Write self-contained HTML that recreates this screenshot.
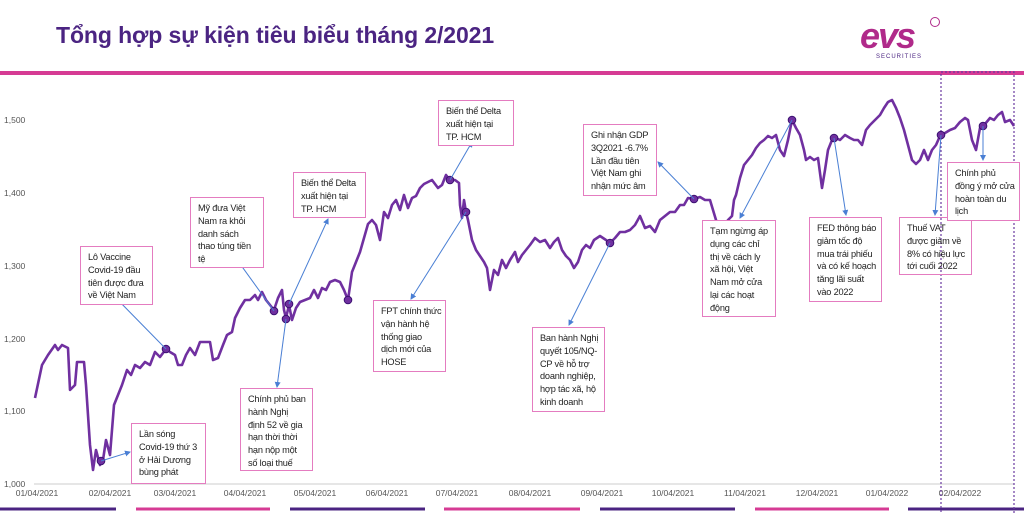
<!DOCTYPE html>
<html><head><meta charset="utf-8"><style>
body{margin:0;width:1024px;height:513px;background:#fff;overflow:hidden;font-family:"Liberation Sans","Noto Sans CJK SC",sans-serif}
.t{position:absolute;left:56px;top:22px;font-size:23px;font-weight:bold;color:#4b2482;letter-spacing:-0.1px}
.b{position:absolute;border:1.5px solid #e47cc0;background:#fff;font-size:9.2px;line-height:12.8px;color:#222;padding:4px 0 0 7px;box-sizing:border-box;white-space:nowrap;letter-spacing:-0.2px}
</style></head><body>
<div class="t">Tổng hợp sự kiện tiêu biểu tháng 2/2021</div>
<div style="position:absolute;left:860px;top:18px;font-size:36px;font-weight:bold;color:#b02a8a;font-style:italic;letter-spacing:-2px;line-height:36px">evs</div>
<div style="position:absolute;left:930px;top:17px;width:8px;height:8px;border:1.5px solid #b02a8a;border-radius:50%"></div>
<div style="position:absolute;left:876px;top:54px;font-size:6px;color:#4b2482;letter-spacing:1px">SECURITIES</div>
<div style="position:absolute;left:0;top:71px;width:1024px;height:4px;background:#d63b94"></div>
<svg width="1024" height="513" style="position:absolute;left:0;top:0">
<g font-size="8.5" fill="#555" font-family="Liberation Sans,sans-serif">
<text x="4" y="123">1,500</text><text x="4" y="196">1,400</text><text x="4" y="269">1,300</text><text x="4" y="342">1,200</text><text x="4" y="414">1,100</text><text x="4" y="487">1,000</text>
</g>
<line x1="34" y1="484" x2="1014" y2="484" stroke="#ccc"/>
<g font-size="8.5" fill="#555" text-anchor="middle">
<text x="37" y="496">01/04/2021</text><text x="110" y="496">02/04/2021</text><text x="175" y="496">03/04/2021</text><text x="245" y="496">04/04/2021</text><text x="315" y="496">05/04/2021</text><text x="387" y="496">06/04/2021</text><text x="457" y="496">07/04/2021</text><text x="530" y="496">08/04/2021</text><text x="602" y="496">09/04/2021</text><text x="673" y="496">10/04/2021</text><text x="745" y="496">11/04/2021</text><text x="817" y="496">12/04/2021</text><text x="887" y="496">01/04/2022</text><text x="960" y="496">02/04/2022</text>
</g>
<g stroke-width="3">
<line x1="0" y1="509" x2="116" y2="509" stroke="#4b2482"/><line x1="136" y1="509" x2="270" y2="509" stroke="#d63b94"/><line x1="290" y1="509" x2="425" y2="509" stroke="#4b2482"/><line x1="444" y1="509" x2="580" y2="509" stroke="#d63b94"/><line x1="600" y1="509" x2="735" y2="509" stroke="#4b2482"/><line x1="755" y1="509" x2="889" y2="509" stroke="#d63b94"/><line x1="908" y1="509" x2="1024" y2="509" stroke="#4b2482"/>
</g>
<rect x="941" y="72" width="73" height="445" fill="none" stroke="#6a3aa0" stroke-dasharray="2,2" stroke-width="1.2"/>
<polyline fill="none" stroke="#7030a0" stroke-width="2.6" stroke-linejoin="round" points="35,398 42,365 48,355 55,345 58,350 62,345 68,348 70,390 75,385 77,362 84,362 86,385 90,445 93,470 96,450 100,465 103,460 106,440 110,455 114,405 118,395 122,385 127,370 131,375 135,365 140,368 145,362 150,365 155,352 160,357 166,349 170,352 175,355 178,365 182,365 186,355 190,348 195,355 200,342 204,342 210,342 213,360 218,358 223,345 227,335 232,332 235,318 240,308 245,300 250,300 255,295 258,300 262,292 266,300 270,305 274,310 278,298 282,290 284,310 286,318 289,305 292,320 296,308 300,302 305,300 310,298 314,290 318,298 322,288 326,290 330,282 335,280 340,282 344,290 348,300 352,272 356,262 360,252 364,238 368,224 372,220 376,225 380,240 384,212 388,218 392,205 396,200 400,210 404,195 408,208 412,198 416,196 420,188 424,184 428,182 432,180 438,188 442,185 446,175 450,180 455,180 459,183 460,205 462,218 464,200 466,212 468,220 472,240 476,250 480,256 484,262 487,268 490,290 494,270 498,275 502,260 506,268 510,260 515,252 518,262 522,255 526,250 530,245 535,238 540,242 545,240 550,248 554,242 558,238 562,250 566,256 570,260 574,268 578,262 582,250 586,245 590,248 594,240 600,236 606,240 610,243 615,238 620,232 625,232 630,230 635,225 640,216 645,228 650,226 655,232 660,220 665,216 670,212 675,212 680,205 684,205 688,198 694,199 700,197 705,200 710,200 713,210 716,220 720,230 724,225 728,220 732,216 734,200 736,195 740,178 744,165 748,160 752,155 756,148 760,143 764,140 768,136 772,138 776,135 780,150 784,156 788,140 792,120 796,128 800,135 804,150 806,160 810,157 814,160 818,158 822,188 825,170 828,150 832,140 836,138 840,140 845,135 850,138 854,140 858,140 862,145 866,130 870,125 875,120 880,115 884,108 888,102 892,100 896,108 900,118 904,130 908,145 912,160 916,164 920,160 924,150 928,160 932,150 936,145 940,136 945,133 950,130 955,128 960,122 965,118 968,120 972,140 976,150 980,128 985,124 990,118 994,120 998,115 1002,112 1005,122 1010,120 1014,126"/>
<g fill="#7030a0" stroke="#3a1070" stroke-width="1">
<circle cx="101" cy="461" r="3.8"/><circle cx="166" cy="349" r="3.8"/><circle cx="274" cy="311" r="3.8"/><circle cx="289" cy="304" r="3.8"/><circle cx="286" cy="319" r="3.8"/><circle cx="348" cy="300" r="3.8"/><circle cx="450" cy="180" r="3.8"/><circle cx="466" cy="212" r="3.8"/><circle cx="610" cy="243" r="3.8"/><circle cx="694" cy="199" r="3.8"/><circle cx="792" cy="120" r="3.8"/><circle cx="834" cy="138" r="3.8"/><circle cx="941" cy="135" r="3.8"/><circle cx="983" cy="126" r="3.8"/>
</g>
<defs><marker id="a" markerWidth="6" markerHeight="6" refX="5" refY="3" orient="auto"><path d="M0,0L6,3L0,6z" fill="#4a7fd4"/></marker></defs>
<g stroke="#4a7fd4" stroke-width="1" marker-end="url(#a)">
<line x1="101" y1="461" x2="130" y2="452"/><line x1="166" y1="349" x2="115" y2="297"/><line x1="274" y1="311" x2="230" y2="250"/><line x1="289" y1="304" x2="328" y2="219"/><line x1="286" y1="319" x2="277" y2="387"/><line x1="450" y1="180" x2="472" y2="142"/><line x1="466" y1="212" x2="411" y2="299"/><line x1="610" y1="243" x2="569" y2="325"/><line x1="694" y1="199" x2="658" y2="162"/><line x1="792" y1="120" x2="740" y2="218"/><line x1="834" y1="138" x2="846" y2="215"/><line x1="941" y1="135" x2="935" y2="215"/><line x1="983" y1="126" x2="983" y2="160"/>
</g>
</svg>
<div class="b" style="left:80px;top:246px;width:73px;height:59px">Lô Vaccine<br>Covid-19 đầu<br>tiên được đưa<br>về Việt Nam</div>
<div class="b" style="left:131px;top:423px;width:75px;height:61px">Lần sóng<br>Covid-19 thứ 3<br>ở Hải Dương<br>bùng phát</div>
<div class="b" style="left:190px;top:197px;width:74px;height:71px">Mỹ đưa Việt<br>Nam ra khỏi<br>danh sách<br>thao túng tiền<br>tệ</div>
<div class="b" style="left:240px;top:388px;width:73px;height:83px">Chính phủ ban<br>hành Nghị<br>định 52 về gia<br>hạn thời thời<br>hạn nộp một<br>số loại thuế</div>
<div class="b" style="left:293px;top:172px;width:73px;height:46px">Biến thể Delta<br>xuất hiện tại<br>TP. HCM</div>
<div class="b" style="left:438px;top:100px;width:76px;height:46px">Biến thể Delta<br>xuất hiện tại<br>TP. HCM</div>
<div class="b" style="left:373px;top:300px;width:73px;height:72px">FPT chính thức<br>vận hành hệ<br>thống giao<br>dịch mới của<br>HOSE</div>
<div class="b" style="left:532px;top:327px;width:73px;height:85px">Ban hành Nghị<br>quyết 105/NQ-<br>CP về hỗ trợ<br>doanh nghiệp,<br>hợp tác xã, hộ<br>kinh doanh</div>
<div class="b" style="left:583px;top:124px;width:74px;height:72px">Ghi nhận GDP<br>3Q2021 -6.7%<br>Lần đầu tiên<br>Việt Nam ghi<br>nhận mức âm</div>
<div class="b" style="left:702px;top:220px;width:74px;height:97px">Tạm ngừng áp<br>dụng các chỉ<br>thị về cách ly<br>xã hội, Việt<br>Nam mở cửa<br>lại các hoạt<br>động</div>
<div class="b" style="left:809px;top:217px;width:73px;height:85px">FED thông báo<br>giảm tốc độ<br>mua trái phiếu<br>và có kế hoạch<br>tăng lãi suất<br>vào 2022</div>
<div class="b" style="left:899px;top:217px;width:73px;height:58px;background:transparent">Thuế VAT<br>được giảm về<br>8% có hiệu lực<br>tới cuối 2022</div>
<div class="b" style="left:947px;top:162px;width:73px;height:59px">Chính phủ<br>đồng ý mở cửa<br>hoàn toàn du<br>lịch</div>
</body></html>
